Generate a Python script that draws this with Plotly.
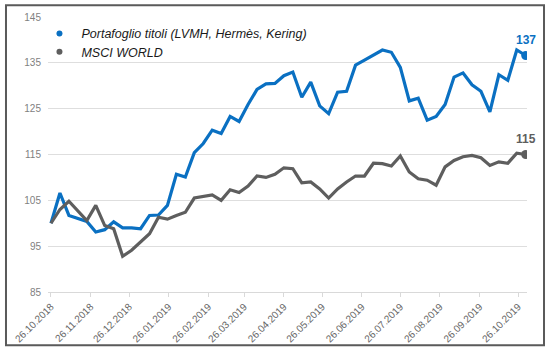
import pandas as pd
import plotly.graph_objects as go

# Weekly dates (Fridays) from 26.10.2018
dates = pd.date_range("2018-10-26", periods=54, freq="7D")

portafoglio = [100.0, 106.6, 101.7, 101.0, 100.4, 98.1, 98.6, 100.3, 99.0, 99.0,
               98.8, 101.7, 101.8, 103.9, 110.7, 110.1, 115.4, 117.4, 120.3, 119.6,
               123.3, 122.2, 125.9, 129.2, 130.4, 130.5, 132.2, 133.0, 127.5, 130.8,
               125.6, 123.9, 128.6, 128.8, 134.5, 135.6, 136.8, 137.8, 137.3, 134.0,
               126.7, 127.3, 122.5, 123.3, 125.9, 131.9, 132.8, 130.2, 128.8, 124.3,
               132.4, 131.2, 137.8, 136.6]

msci_world = [100.0, 103.0, 104.8, 102.8, 100.6, 103.9, 99.5, 98.8, 92.8, 94.1,
              96.0, 97.7, 101.3, 100.9, 101.7, 102.4, 105.5, 105.9, 106.2, 105.0,
              107.3, 106.7, 108.1, 110.3, 110.0, 110.7, 112.1, 111.9, 108.8, 109.0,
              107.5, 105.5, 107.5, 109.0, 110.3, 110.3, 113.1, 113.0, 112.5, 114.7,
              111.2, 109.7, 109.4, 108.3, 112.3, 113.7, 114.5, 114.8, 114.3, 112.6,
              113.4, 113.1, 115.3, 115.0]

series_names = ["Portafoglio titoli (LVMH, Hermès, Kering)", "MSCI WORLD"]
series_colors = ["#0a70c2", "#5e5e5e"]
legend_ids = ["legend", "legend2"]

tick_dates = pd.date_range("2018-10-01", "2019-10-01", freq="MS") + pd.Timedelta(days=25)
y_ticks = [85, 95, 105, 115, 125, 135, 145]

fig = go.Figure()

for name, vals, col, lid in zip(series_names, [portafoglio, msci_world], series_colors, legend_ids):
    fig.add_trace(go.Scatter(
        x=dates, y=vals, mode="lines", line=dict(color=col, width=3.2),
        showlegend=False, hoverinfo="skip"))
    fig.add_trace(go.Scatter(
        x=[dates[-1]], y=[vals[-1]], mode="markers",
        marker=dict(color=col, size=9), showlegend=False, hoverinfo="skip"))
    fig.add_trace(go.Scatter(
        x=[None], y=[None], mode="markers", name=name, legend=lid,
        marker=dict(color=col, size=6)))
    fig.add_annotation(
        x=dates[-1], y=vals[-1], text="<b>%d</b>" % round(vals[-1]),
        showarrow=False, yshift=16,
        font=dict(family="Liberation Sans, Arial", size=12, color=col))

legend_style = dict(xanchor="left", yanchor="top", bgcolor="rgba(0,0,0,0)",
                    itemwidth=34,
                    font=dict(family="Liberation Sans, Arial", size=12.5,
                              color="#1a1a1a", style="italic"))

fig.update_layout(
    width=553, height=356,
    margin=dict(l=48, r=26, t=17, b=64, autoexpand=False),
    paper_bgcolor="white", plot_bgcolor="white",
    font=dict(family="Liberation Sans, Arial", size=10, color="#595959"),
    legend=dict(x=-0.022, y=0.993, **legend_style),
    legend2=dict(x=-0.022, y=0.927, **legend_style),
    xaxis=dict(type="date", range=["2018-10-23 16:00", "2019-11-02"],
               tickvals=tick_dates, tickformat="%d.%m.%Y", tickangle=-45,
               ticklabeloverflow="allow", automargin=False,
               showgrid=False, showline=True, linecolor="#d9d9d9", linewidth=1,
               ticks="outside", ticklen=4, tickcolor="#d9d9d9",
               tickfont=dict(size=10, color="#666666")),
    yaxis=dict(range=[85, 145], tickvals=y_ticks, showgrid=True, automargin=False,
               gridcolor="#dedede", gridwidth=1, zeroline=False, showline=False,
               ticks="", ticklabelstandoff=6,
               tickfont=dict(size=10, color="#7f7f7f")),
    shapes=[dict(type="rect", xref="paper", yref="paper",
                 x0=-0.0877, x1=1.0355, y0=-0.194, y1=1.043,
                 line=dict(color="#5a5a5a", width=2), layer="above")],
)

fig.write_html("out.html", config={"displayModeBar": False},
               post_script="document.body.style.margin='0';document.body.style.padding='0';")
